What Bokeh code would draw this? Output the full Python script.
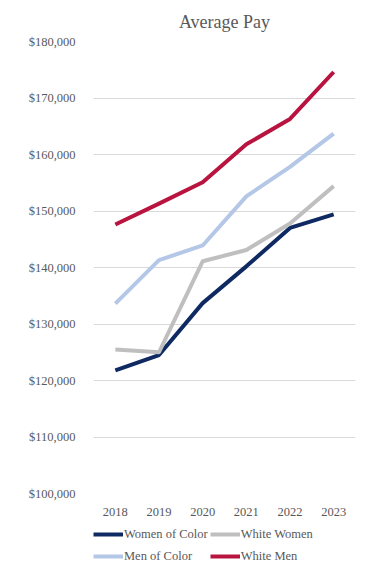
from bokeh.plotting import figure
from bokeh.layouts import column
from bokeh.models import Range1d, NumeralTickFormatter, Legend, LegendItem, FixedTicker
from bokeh.embed import file_html
from bokeh.resources import INLINE

years = ["2018", "2019", "2020", "2021", "2022", "2023"]
women_of_color = [121800, 124500, 133700, 140200, 147000, 149400]
white_women = [125500, 125000, 141100, 143100, 147800, 154400]
men_of_color = [133600, 141300, 143900, 152600, 157800, 163700]
white_men = [147600, 151300, 155100, 161800, 166300, 174600]
y_ticks = [100000, 110000, 120000, 130000, 140000, 150000, 160000, 170000, 180000]

FONT = "Liberation Serif"
TXT = "#595959"

p = figure(x_range=years, y_range=Range1d(100000, 180000), width=375, height=520,
           output_backend="svg", toolbar_location=None,
           min_border_left=93, min_border_right=20, min_border_top=41, min_border_bottom=27,
           title="Average Pay")
p.outline_line_color = None
p.background_fill_color = "white"
p.border_fill_color = "white"

p.title.align = "center"
p.title.text_font = FONT
p.title.text_font_size = "18px"
p.title.text_font_style = "normal"
p.title.text_color = TXT
p.title.standoff = 19

series = [
    ("Women of Color", women_of_color, "#0f2a63"),
    ("White Women", white_women, "#bfbfbf"),
    ("Men of Color", men_of_color, "#b4c7e7"),
    ("White Men", white_men, "#b8143f"),
]
for name, vals, col in series:
    p.line(years, vals, line_color=col, line_width=4, line_join="round")

p.yaxis.ticker = FixedTicker(ticks=y_ticks)
p.yaxis.formatter = NumeralTickFormatter(format="$0,0")
for ax in (p.xaxis, p.yaxis):
    ax.axis_line_color = None
    ax.major_tick_line_color = None
    ax.minor_tick_line_color = None
    ax.major_label_text_font = FONT
    ax.major_label_text_font_size = "12.5px"
    ax.major_label_text_color = TXT
p.yaxis.major_label_standoff = 12
p.xaxis.major_label_standoff = 8

p.xgrid.grid_line_color = None
p.ygrid.grid_line_color = "#d9d9d9"
p.ygrid.grid_line_width = 1

# legend in its own strip below the chart (series drawn out of its visible range)
lg = figure(width=375, height=55, output_backend="svg", toolbar_location=None,
            x_range=years, y_range=Range1d(0, 1),
            x_axis_type=None, y_axis_type=None,
            min_border_left=93, min_border_right=20, min_border_top=0, min_border_bottom=0)
lg.outline_line_color = None
lg.xgrid.visible = False
lg.ygrid.visible = False
items = {}
for name, vals, col in series:
    r = lg.line(years, vals, line_color=col, line_width=4)
    items[name] = LegendItem(label=name, renderers=[r])

order = ["Women of Color", "White Women", "Men of Color", "White Men"]
legend = Legend(items=[items[n] for n in order], orientation="horizontal", nrows=2,
                location=(0, 9),
                border_line_color=None, background_fill_alpha=0,
                glyph_width=30, glyph_height=20,
                label_standoff=1, spacing=2, padding=4, margin=0,
                label_text_font=FONT, label_text_font_size="12.5px",
                label_text_color=TXT)
lg.add_layout(legend, "center")

layout = column(p, lg, spacing=0)
open("out.html", "w").write(file_html(layout, INLINE))
